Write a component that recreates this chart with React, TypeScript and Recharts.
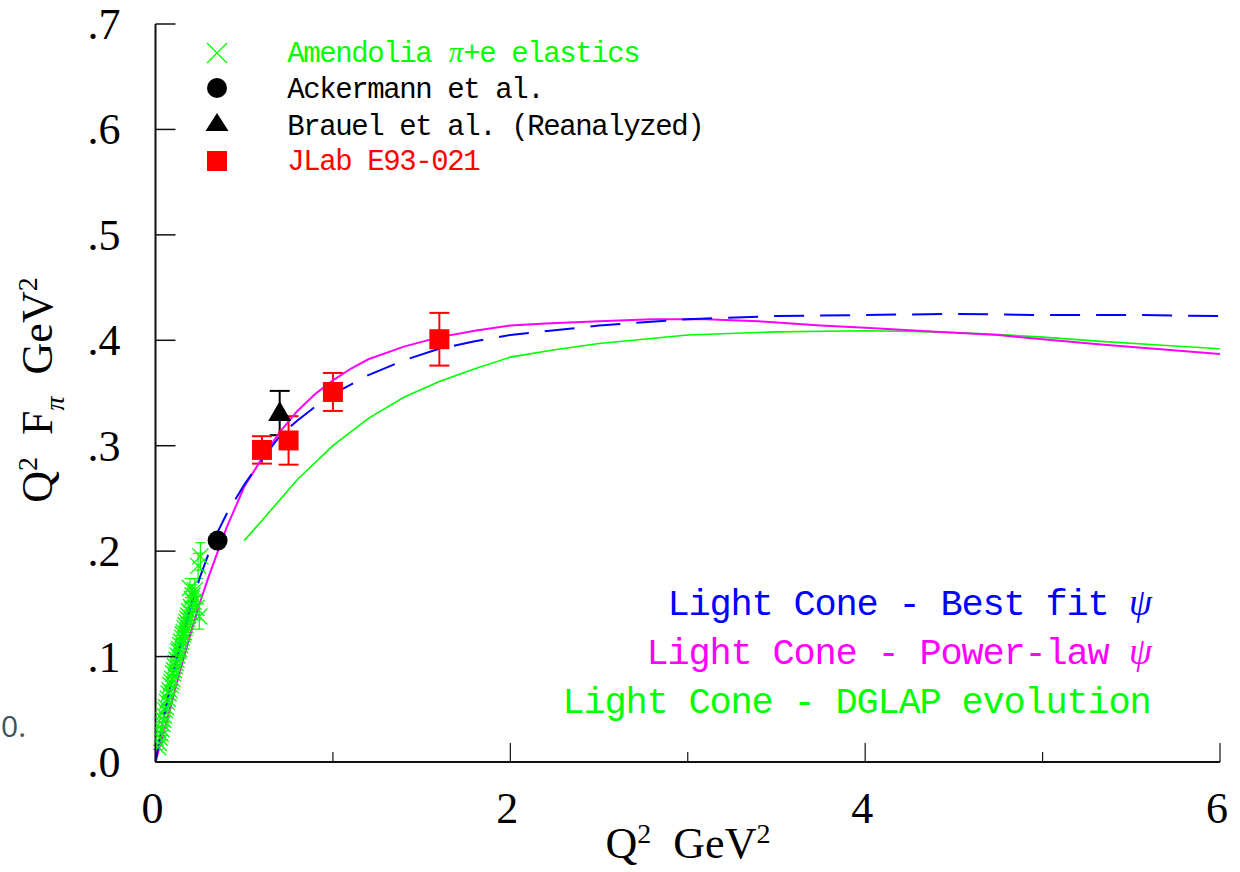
import React from 'react';
import { ComposedChart, XAxis, YAxis, Scatter, Line, ErrorBar } from 'recharts';

// ---------- data ----------
const xTicks = [0, 1, 2, 3, 4, 5, 6];
const yTicks = [0, 0.1, 0.2, 0.3, 0.4, 0.5, 0.6, 0.7];

const amendoliaQ2 = [0.015, 0.019, 0.024, 0.029, 0.034, 0.039, 0.044, 0.049, 0.054, 0.059, 0.064, 0.069, 0.074, 0.079, 0.084, 0.089, 0.094, 0.099, 0.104, 0.109, 0.114, 0.119, 0.124, 0.129, 0.134, 0.139, 0.144, 0.149, 0.154, 0.159, 0.164, 0.169, 0.174, 0.179, 0.184, 0.189, 0.194, 0.199, 0.204, 0.209, 0.215, 0.222, 0.231, 0.240, 0.247, 0.253];
const amendoliaVal = [0.014, 0.018, 0.023, 0.027, 0.031, 0.036, 0.040, 0.044, 0.049, 0.052, 0.057, 0.060, 0.065, 0.068, 0.073, 0.076, 0.079, 0.084, 0.087, 0.091, 0.094, 0.097, 0.101, 0.105, 0.107, 0.111, 0.114, 0.118, 0.121, 0.123, 0.127, 0.130, 0.133, 0.136, 0.139, 0.143, 0.165, 0.147, 0.155, 0.158, 0.152, 0.163, 0.146, 0.186, 0.138, 0.195];
const amendoliaErr = [0.002, 0.002, 0.002, 0.002, 0.002, 0.002, 0.002, 0.003, 0.003, 0.003, 0.003, 0.003, 0.003, 0.004, 0.004, 0.004, 0.004, 0.004, 0.005, 0.005, 0.005, 0.005, 0.005, 0.006, 0.006, 0.006, 0.006, 0.006, 0.007, 0.007, 0.007, 0.007, 0.008, 0.008, 0.008, 0.009, 0.009, 0.009, 0.010, 0.010, 0.010, 0.011, 0.011, 0.012, 0.012, 0.013];

const ackermannQ2 = [0.35];
const ackermannVal = [0.210];

const brauelQ2 = [0.70];
const brauelVal = [0.331];
const brauelErr = [0.021];

const jlabQ2 = [0.60, 0.75, 1.00, 1.60];
const jlabVal = [0.296, 0.305, 0.351, 0.401];
const jlabErr = [0.013, 0.023, 0.018, 0.025];

const bestFitQ2 = [0, 0.05, 0.1, 0.15, 0.2, 0.25, 0.3, 0.35, 0.4, 0.5, 0.6, 0.7, 0.8, 0.9, 1.0, 1.2, 1.4, 1.6, 1.8, 2.0, 2.5, 3.0, 3.5, 4.0, 4.5, 5.0, 5.5, 6.0];
const bestFitVal = [0, 0.045, 0.084, 0.118, 0.148, 0.175, 0.198, 0.218, 0.235, 0.263, 0.287, 0.309, 0.324, 0.337, 0.349, 0.367, 0.381, 0.392, 0.399, 0.405, 0.414, 0.420, 0.423, 0.424, 0.425, 0.424, 0.424, 0.423];

const powerLawQ2 = [0, 0.05, 0.1, 0.15, 0.2, 0.25, 0.3, 0.35, 0.4, 0.5, 0.6, 0.7, 0.8, 0.9, 1.0, 1.1, 1.2, 1.4, 1.6, 1.8, 2.0, 2.2, 2.5, 2.8, 3.1, 3.4, 3.75, 4.0, 4.4, 4.75, 5.0, 5.33, 5.7, 6.0];
const powerLawVal = [0, 0.031, 0.062, 0.093, 0.123, 0.151, 0.176, 0.199, 0.222, 0.261, 0.288, 0.313, 0.333, 0.349, 0.362, 0.373, 0.382, 0.394, 0.403, 0.409, 0.414, 0.416, 0.418, 0.420, 0.420, 0.418, 0.414, 0.412, 0.408, 0.405, 0.401, 0.396, 0.391, 0.387];

const dglapQ2 = [0.5, 0.6, 0.8, 1.0, 1.2, 1.4, 1.6, 1.8, 2.0, 2.25, 2.5, 3.0, 3.5, 4.0, 4.4, 4.7, 5.0, 5.33, 5.7, 6.0];
const dglapVal = [0.210, 0.229, 0.268, 0.300, 0.326, 0.346, 0.361, 0.373, 0.384, 0.391, 0.397, 0.405, 0.408, 0.409, 0.408, 0.406, 0.403, 0.399, 0.395, 0.392];

const legendLabels = ['Amendolia π+e elastics', 'Ackermann et al.', 'Brauel et al. (Reanalyzed)', 'JLab E93-021'];
const modelLabels = ['Light Cone - Best fit ψ', 'Light Cone - Power-law ψ', 'Light Cone - DGLAP evolution'];

// ---------- build ----------
const amendoliaData = amendoliaQ2.map((x, i) => ({ x, y: amendoliaVal[i], err: amendoliaErr[i] }));
const ackermannData = ackermannQ2.map((x, i) => ({ x, y: ackermannVal[i] }));
const brauelData = brauelQ2.map((x, i) => ({ x, y: brauelVal[i], err: brauelErr[i] }));
const jlabData = jlabQ2.map((x, i) => ({ x, y: jlabVal[i], err: jlabErr[i] }));
const bestFitData = bestFitQ2.map((x, i) => ({ x, y: bestFitVal[i] }));
const powerLawData = powerLawQ2.map((x, i) => ({ x, y: powerLawVal[i] }));
const dglapData = dglapQ2.map((x, i) => ({ x, y: dglapVal[i] }));

const W = 1240;
const H = 872;
const GREEN = '#00ff00';
const RED = '#ff0000';
const BLUE = '#0000ff';
const MAGENTA = '#ff00ff';
const FRAME = '#111111';
const SERIF = '"Liberation Serif", "DejaVu Serif", serif';
const MONO = '"Liberation Mono", "DejaVu Sans Mono", monospace';

const fmtY = (v: number) => v.toFixed(1).replace(/^0/, '');

function LeftTick(props: any) {
  const { x, y, payload } = props;
  return (
    <g>
      <line x1={x} y1={y} x2={x + 20} y2={y} stroke={FRAME} strokeWidth={1.5} />
      <text x={x - 35} y={y + 15} textAnchor="end" fontFamily={SERIF} fontSize={44} fill="#000">
        {fmtY(payload.value)}
      </text>
    </g>
  );
}

function RightTick(props: any) {
  const { x, y } = props;
  return <line x1={x} y1={y} x2={x - 18} y2={y} stroke={FRAME} strokeWidth={1.5} />;
}

function BottomTick(props: any) {
  const { x, y, payload } = props;
  const major = payload.value % 2 === 0;
  return (
    <g>
      <line x1={x} y1={y} x2={x} y2={y - (major ? 19 : 10)} stroke={FRAME} strokeWidth={1.2} />
      {major && (
        <text x={x - 3} y={y + 61} textAnchor="middle" fontFamily={SERIF} fontSize={44} fill="#000">
          {payload.value}
        </text>
      )}
    </g>
  );
}

function TopTick(props: any) {
  const { x, y, payload } = props;
  const major = payload.value % 2 === 0;
  return <line x1={x} y1={y} x2={x} y2={y + (major ? 20 : 10)} stroke={FRAME} strokeWidth={1.2} />;
}

const CrossShape = (p: any) => {
  const s = 8;
  return (
    <g>
      <line x1={p.cx - s} y1={p.cy - s} x2={p.cx + s} y2={p.cy + s} stroke={GREEN} strokeWidth={1.3} />
      <line x1={p.cx - s} y1={p.cy + s} x2={p.cx + s} y2={p.cy - s} stroke={GREEN} strokeWidth={1.3} />
    </g>
  );
};
const CircleShape = (p: any) => <circle cx={p.cx} cy={p.cy} r={10} fill="#000" />;
const TriangleShape = (p: any) => (
  <polygon points={`${p.cx},${p.cy - 12} ${p.cx - 11.5},${p.cy + 8} ${p.cx + 11.5},${p.cy + 8}`} fill="#000" />
);
const SquareShape = (p: any) => <rect x={p.cx - 10} y={p.cy - 10} width={20} height={20} fill={RED} />;

// typewriter text: every character centred in a fixed-width cell
function MonoText(props: { x: number; y: number; text: string; advance: number; fontSize: number; fill: string; end?: boolean }) {
  const { x, y, text, advance, fontSize, fill, end } = props;
  const chars = Array.from(text);
  const x0 = end ? x - chars.length * advance : x;
  return (
    <text transform={`translate(${x0} ${y})`} fontFamily={MONO} fontSize={fontSize} fill={fill} textAnchor="middle">
      {chars.map((c, i) => {
        if (c === ' ') return null;
        const greek = c === 'π' || c === 'ψ';
        return (
          <tspan key={i} x={advance * (i + 0.5)} y={0} fontFamily={greek ? SERIF : undefined} fontStyle={greek ? 'italic' : undefined}>
            {c}
          </tspan>
        );
      })}
    </text>
  );
}

function Overlay() {
  const lx = 217;
  const tx = 288;
  const rows = [62, 98, 135, 170];
  const colors = [GREEN, '#000', '#000', RED];
  const modelColors = [BLUE, MAGENTA, GREEN];
  const modelRows = [615, 664, 713];
  return (
    <svg width={W} height={H} style={{ position: 'absolute', left: 0, top: 0, pointerEvents: 'none' }}>
      {/* page fragment at the left edge */}
      <text x={1} y={737} fontFamily='"Open Sans", sans-serif' fontSize={30} fill="#3c5458">0.</text>

      {/* data legend */}
      <line x1={lx - 10} y1={rows[0] - 19} x2={lx + 10} y2={rows[0] + 1} stroke={GREEN} strokeWidth={1.3} />
      <line x1={lx - 10} y1={rows[0] + 1} x2={lx + 10} y2={rows[0] - 19} stroke={GREEN} strokeWidth={1.3} />
      <circle cx={lx} cy={rows[1] - 10} r={10} fill="#000" />
      <polygon points={`${lx},${rows[2] - 22} ${lx - 11.5},${rows[2] - 4} ${lx + 11.5},${rows[2] - 4}`} fill="#000" />
      <rect x={lx - 10} y={rows[3] - 19} width={20} height={20} fill={RED} />
      {legendLabels.map((t, i) => (
        <MonoText key={t} x={tx} y={rows[i]} text={t} advance={16} fontSize={29} fill={colors[i]} />
      ))}

      {/* model legend */}
      {modelLabels.map((t, i) => (
        <MonoText key={t} x={1151} y={modelRows[i]} text={t} advance={21} fontSize={37} fill={modelColors[i]} end />
      ))}

      {/* axis titles */}
      <text x={688} y={858} textAnchor="middle" fontFamily={SERIF} fontSize={44} fill="#000" style={{ whiteSpace: 'pre' }}>
        Q<tspan fontSize={28} dy={-15}>2</tspan>
        <tspan dy={15}>  GeV</tspan>
        <tspan fontSize={28} dy={-15}>2</tspan>
      </text>
      <text
        x={52}
        y={390}
        textAnchor="middle"
        transform="rotate(-90 52 390)"
        fontFamily={SERIF}
        fontSize={44}
        fill="#000"
        style={{ whiteSpace: 'pre' }}
      >
        Q<tspan fontSize={28} dy={-15}>2</tspan>
        <tspan dy={15}>  F</tspan>
        <tspan fontSize={28} dy={12} fontStyle="italic">π</tspan>
        <tspan dy={-12}>  GeV</tspan>
        <tspan fontSize={28} dy={-15}>2</tspan>
      </text>
    </svg>
  );
}

export default function App() {
  return (
    <div style={{ position: 'absolute', left: 0, top: 0, width: W, height: H, background: '#fff' }}>
      <ComposedChart width={W} height={H} margin={{ top: 24, right: 20, bottom: 0, left: 0 }}>
        <XAxis
          xAxisId="b"
          dataKey="x"
          type="number"
          domain={[0, 6]}
          ticks={xTicks}
          interval={0}
          allowDataOverflow
          height={110}
          tickSize={0}
          tickMargin={0}
          tickLine={false}
          tick={<BottomTick />}
          axisLine={{ stroke: FRAME, strokeWidth: 2 }}
        />
        <XAxis
          xAxisId="t"
          orientation="top"
          dataKey="x"
          type="number"
          domain={[0, 6]}
          ticks={xTicks}
          interval={0}
          allowDataOverflow
          height={0}
          tickSize={0}
          tickMargin={0}
          tickLine={false}
          tick={<TopTick />}
          axisLine={{ stroke: FRAME, strokeWidth: 2 }}
        />
        <YAxis
          yAxisId="l"
          dataKey="y"
          type="number"
          domain={[0, 0.7]}
          ticks={yTicks}
          interval={0}
          allowDataOverflow
          width={155.5}
          tickSize={0}
          tickMargin={0}
          tickLine={false}
          tick={<LeftTick />}
          axisLine={{ stroke: FRAME, strokeWidth: 2 }}
        />
        <YAxis
          yAxisId="r"
          orientation="right"
          dataKey="y"
          type="number"
          domain={[0, 0.7]}
          ticks={yTicks}
          interval={0}
          allowDataOverflow
          width={0}
          tickSize={0}
          tickMargin={0}
          tickLine={false}
          tick={<RightTick />}
          axisLine={{ stroke: FRAME, strokeWidth: 2 }}
        />

        <Scatter xAxisId="b" yAxisId="l" name="Amendolia" data={amendoliaData} dataKey="y" shape={CrossShape} isAnimationActive={false}>
          <ErrorBar dataKey="err" direction="y" width={5} stroke={GREEN} strokeWidth={1.2} isAnimationActive={false} />
        </Scatter>
        <Scatter xAxisId="b" yAxisId="l" name="Ackermann" data={ackermannData} dataKey="y" shape={CircleShape} isAnimationActive={false} />
        <Scatter xAxisId="b" yAxisId="l" name="Brauel" data={brauelData} dataKey="y" shape={TriangleShape} isAnimationActive={false}>
          <ErrorBar dataKey="err" direction="y" width={10} stroke="#000" strokeWidth={2} isAnimationActive={false} />
        </Scatter>
        <Scatter xAxisId="b" yAxisId="l" name="JLab" data={jlabData} dataKey="y" shape={SquareShape} isAnimationActive={false}>
          <ErrorBar dataKey="err" direction="y" width={10} stroke={RED} strokeWidth={2} isAnimationActive={false} />
        </Scatter>

        <Line xAxisId="b" yAxisId="l" data={dglapData} dataKey="y" type="linear" stroke={GREEN} strokeWidth={1.6} dot={false} isAnimationActive={false} />
        <Line xAxisId="b" yAxisId="l" data={powerLawData} dataKey="y" type="linear" stroke={MAGENTA} strokeWidth={2} dot={false} isAnimationActive={false} />
        <Line xAxisId="b" yAxisId="l" data={bestFitData} dataKey="y" type="linear" stroke={BLUE} strokeWidth={2} strokeDasharray="30 16" dot={false} isAnimationActive={false} />
      </ComposedChart>
      <Overlay />
    </div>
  );
}
